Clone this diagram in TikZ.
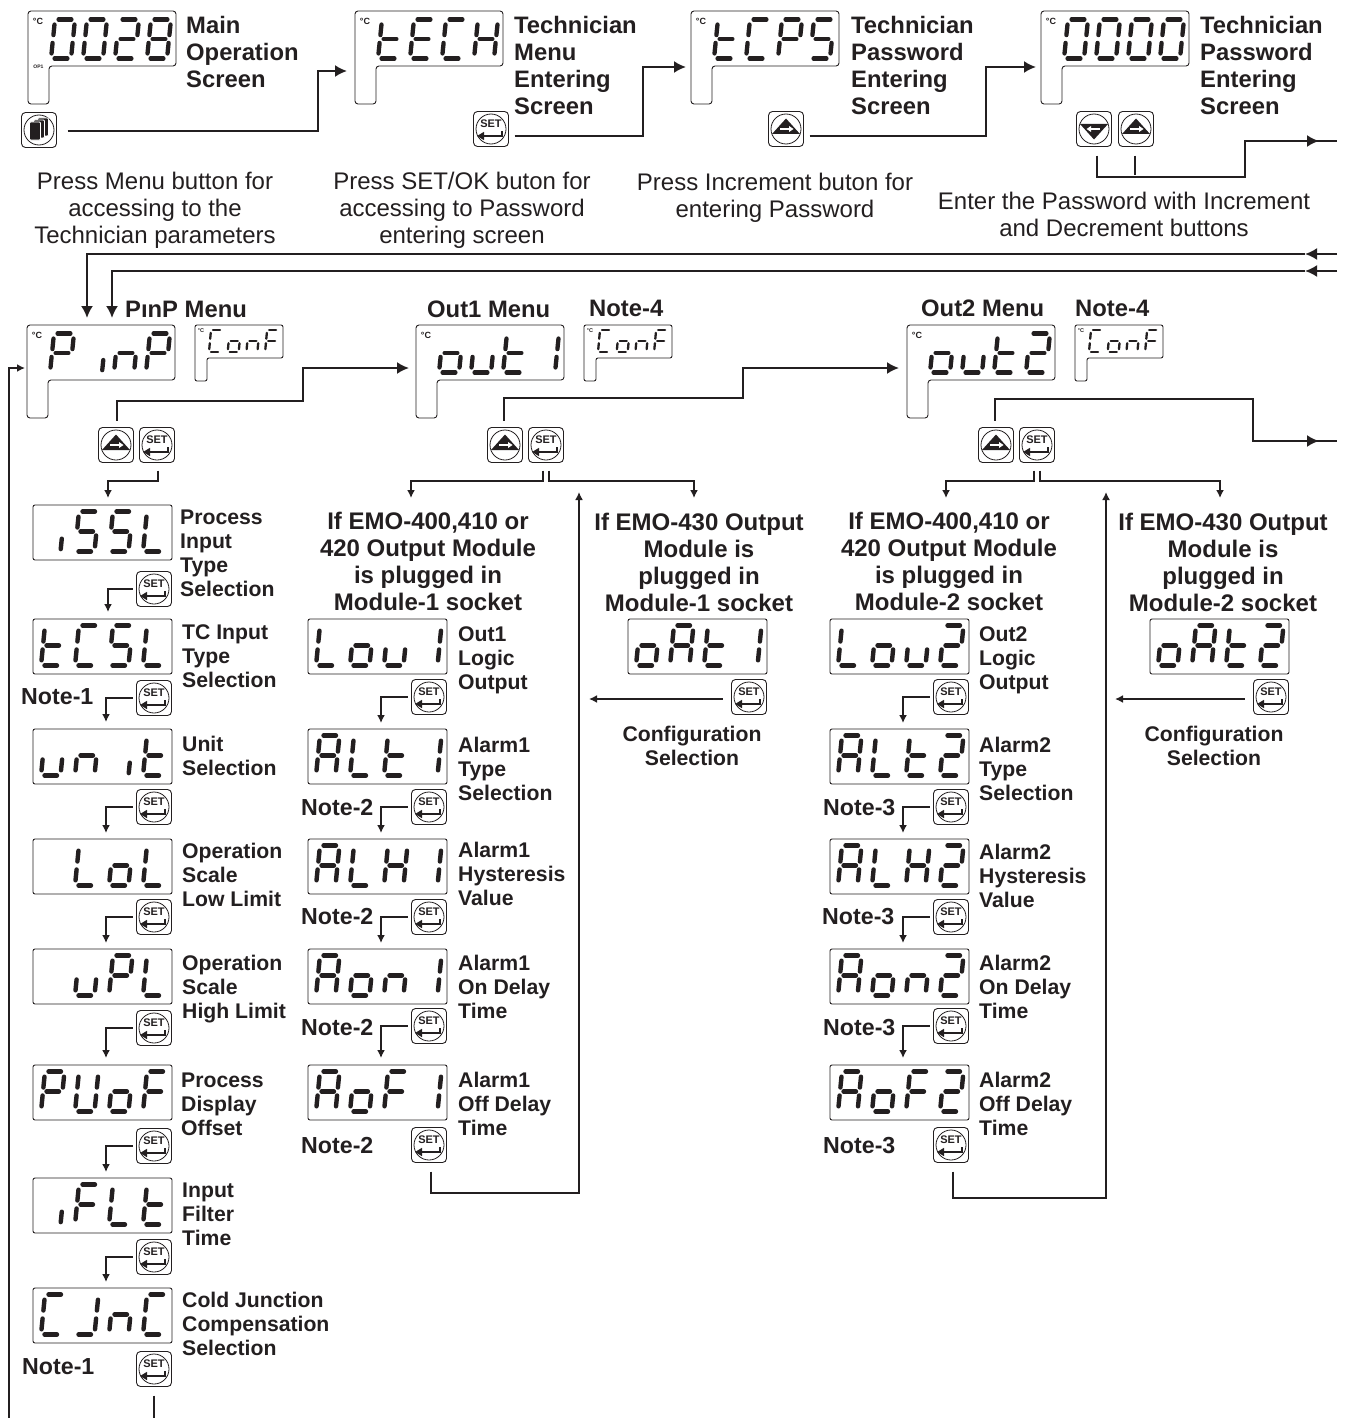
\documentclass[tikz,border=0pt]{standalone}
\usepackage{fontspec}
\setmainfont{Liberation Sans}
\usetikzlibrary{arrows.meta}
\definecolor{ink}{HTML}{231F20}
\tikzset{
 dline/.style={draw=ink,line width=0.9pt},
 dbx/.style={anchor=north west,inner sep=0pt,outer sep=0pt},
 segline/.style={draw=ink,line width=\slw pt,line cap=round},
 conn/.style={draw=ink,line width=2pt},
 tipb/.style={-{Latex[length=12pt,width=12pt]}},
 tips/.style={-{Latex[length=8pt,width=8pt]}},
 degc/.style={inner sep=0pt,font=\fontsize{9}{9}\selectfont\bfseries,text=ink},
 lbla/.style={anchor=north west,inner sep=0pt,align=left,text=ink,yshift=10.3pt,font=\fontsize{23.8}{27}\selectfont\bfseries},
 lblb/.style={anchor=north west,inner sep=0pt,align=left,text=ink,yshift=9.3pt,font=\fontsize{21.2}{24}\selectfont\bfseries},
 hdr/.style={anchor=north,inner sep=0pt,align=center,text=ink,yshift=10.3pt,font=\fontsize{24}{27}\selectfont\bfseries},
 capt/.style={anchor=north,inner sep=0pt,align=center,text=ink,yshift=10.3pt,font=\fontsize{24}{27}\selectfont},
 cfg/.style={anchor=north,inner sep=0pt,align=center,text=ink,yshift=9.3pt,font=\fontsize{21.2}{24}\selectfont\bfseries},
 notet/.style={anchor=west,inner sep=0pt,text=ink,font=\fontsize{23.2}{27}\selectfont\bfseries},
 btnbox/.style={draw=ink,line width=0.9pt,rounded corners=4pt,minimum size=35pt,inner sep=0pt,outer sep=0pt},
 settx/.style={inner sep=0pt,text=ink,font=\fontsize{11}{11}\selectfont\bfseries}
}
% seven segment machinery
\newcommand\sg[4]{\draw[segline] ({\sx+#1*\sw+#2*\ssl},{\sy-#2*\sh}) -- ({\sx+#3*\sw+#4*\ssl},{\sy-#4*\sh});}
\def\sega{\sg{.18}{1}{.82}{1}}
\def\segb{\sg{1}{.87}{1}{.6}}
\def\segc{\sg{1}{.4}{1}{.13}}
\def\segd{\sg{.18}{0}{.82}{0}}
\def\sege{\sg{0}{.4}{0}{.13}}
\def\segf{\sg{0}{.87}{0}{.6}}
\def\segg{\sg{.18}{.5}{.82}{.5}}
\def\segi{\sg{1}{.32}{1}{.06}}
\def\glx{}
\def\glO{a,b,c,d,e,f}
\def\glI{b,c}
\def\glT{a,b,g,e,d}
\def\glB{a,b,c,d,e,f,g}
\def\glt{f,e,d,g}
\def\glE{a,f,g,e,d}
\def\glC{a,f,e,d}
\def\glH{f,b,g,e,c}
\def\glP{a,b,f,g,e}
\def\glS{a,f,g,c,d}
\def\glL{f,e,d}
\def\glu{e,d,c}
\def\gln{e,g,c}
\def\gli{i}
\def\glo{c,d,e,g}
\def\glA{a,b,c,e,f,g}
\def\glF{a,f,g,e}
\def\glU{b,c,d,e,f}
\def\glJ{b,c,d}
\newcommand\setdig[5]{\def\sw{#1}\def\sh{#2}\def\ssl{#3}\def\spitch{#4}\def\slw{#5}}
\newcommand\digs[3]{%
 \foreach \dc [count=\n from 0] in {#3} {%
  \pgfmathsetmacro\sx{#1+\n*\spitch}%
  \def\sy{#2}%
  \expandafter\let\expandafter\cl\csname gl\dc\endcsname
  \foreach \s in \cl {\csname seg\s\endcsname}%
 }}
% display with tail
\newcommand\maindisp[4]{%
 \node[dbx,minimum width=148pt,minimum height=55pt] (#1) at (#2,#3) {};
 \draw[dline,rounded corners=3pt] (#1.north west) -- (#1.north east) -- (#1.south east) -- ([shift={(21,0)}]#1.south west) -- ([shift={(21,38)}]#1.south west) -- ([shift={(0,38)}]#1.south west) -- cycle;
 \node[degc] (#1c) at ([shift={(10,10)}]#1.north west) {°C};
 \setdig{20}{39}{4}{32}{4.3}
 \pgfmathsetmacro\dx{#2+23}\pgfmathsetmacro\dy{#3+47.5}
 \digs{\dx}{\dy}{#4}}
% small "ConF" display
\newcommand\confdisp[3]{%
 \node[dbx,minimum width=88pt,minimum height=33pt] (#1) at (#2,#3) {};
 \draw[dline,rounded corners=2pt] (#1.north west) -- (#1.north east) -- (#1.south east) -- ([shift={(12,0)}]#1.south west) -- ([shift={(12,23)}]#1.south west) -- ([shift={(0,23)}]#1.south west) -- cycle;
 \node[degc,font=\fontsize{5.5}{6}\selectfont\bfseries] (#1c) at ([shift={(6,6)}]#1.north west) {°C};
 \setdig{11}{22}{2}{18.7}{2.3}
 \pgfmathsetmacro\dx{#2+14}\pgfmathsetmacro\dy{#3+27}
 \digs{\dx}{\dy}{C,o,n,F}}
% plain display
\newcommand\rowdisp[4]{%
 \node[dbx,dline,rounded corners=2pt,minimum width=139pt,minimum height=55pt] (#1) at (#2,#3) {};
 \setdig{19.5}{40}{4}{34}{4.4}
 \pgfmathsetmacro\dx{#2+8}\pgfmathsetmacro\dy{#3+46.5}
 \digs{\dx}{\dy}{#4}}
% buttons
\newcommand\btnring[3]{\node[btnbox] (#1) at (#2,#3) {};\draw[ink,line width=0.8pt] (#1.center) circle [radius=15pt];}
\newcommand\btnset[3]{\btnring{#1}{#2}{#3}%
 \node[settx] (#1t) at (#2,#3-5.5) {SET};
 \begin{scope}[shift={(#2,#3)}]
 \draw[ink,line width=2.4pt] (11,2) -- (11,7) -- (-8,7);
 \fill[ink] (-14,7) -- (-7,2.8) -- (-7,11.2) -- cycle;
 \end{scope}}
\newcommand\btninc[3]{\btnring{#1}{#2}{#3}%
 \begin{scope}[shift={(#2,#3)}]
 \fill[ink] (0,-10.5) -- (14,5) -- (-14,5) -- cycle;
 \draw[white,line width=1.5pt] (-6,0) -- (3,0);
 \fill[white] (7.5,0) -- (3,-3) -- (3,3) -- cycle;
 \end{scope}}
\newcommand\btndec[3]{\btnring{#1}{#2}{#3}%
 \begin{scope}[shift={(#2,#3)}]
 \fill[ink] (0,10.5) -- (14,-5) -- (-14,-5) -- cycle;
 \draw[white,line width=1.5pt] (6,0) -- (-3,0);
 \fill[white] (-7.5,0) -- (-3,-3) -- (-3,3) -- cycle;
 \end{scope}}
\newcommand\btnmenu[3]{\btnring{#1}{#2}{#3}%
 \begin{scope}[shift={(#2,#3)}]
 \foreach \ox in {4,0,-4}
  \filldraw[fill=ink,draw=white,line width=0.8pt,rounded corners=1pt] (\ox-5.5,-10-\ox*.5) rectangle (\ox+5.5,8-\ox*.5);
 \end{scope}}
\newcommand\la[4]{\node[lbla] (#1) at (#2,#3) {\strut #4};}
\newcommand\lb[4]{\node[lblb] (#1) at (#2,#3) {\strut #4};}
\newcommand\hd[4]{\node[hdr] (#1) at (#2,#3) {\strut #4};}
\newcommand\ca[4]{\node[capt] (#1) at (#2,#3) {\strut #4};}
\newcommand\cf[3]{\node[cfg] (#1) at (#2,#3) {\strut Configuration\\Selection};}
\newcommand\nt[4]{\node[notet] (#1) at (#2,#3) {#4};}
\begin{document}
\begin{tikzpicture}[x=1pt,y=-1pt]
\useasboundingbox (0,0) rectangle (1346,1418);
% ---- top row
\maindisp{dA}{28}{11}{O,O,T,B}
\node[inner sep=0pt,font=\fontsize{5}{5}\selectfont\bfseries,text=ink] (opA) at (38.5,67) {OP1};
\maindisp{dB}{355}{11}{t,E,C,H}
\maindisp{dC}{691}{11}{t,C,P,S}
\maindisp{dD}{1041}{11}{O,O,O,O}
\la{tA}{186}{25}{Main\\Operation\\Screen}
\la{tB}{514}{25}{Technician\\Menu\\Entering\\Screen}
\la{tC}{851}{25}{Technician\\Password\\Entering\\Screen}
\la{tD}{1200}{25}{Technician\\Password\\Entering\\Screen}
\btnmenu{bA}{39}{130}
\btnset{bB}{491}{129}
\btninc{bC}{786}{129}
\btndec{bD}{1094}{129}
\btninc{bE}{1136}{129}
\draw[conn,tipb] ([shift={(11,1)}]bA.east) -- ++(250,0) |- ([shift={(-8,5)}]dB.south west);
\draw[conn,tipb] ([shift={(6,7)}]bB.east) -- ++(128,0) |- ([shift={(-5,1)}]dC.south west);
\draw[conn,tipb] ([shift={(6,7)}]bC.east) -- ++(176,0) |- ([shift={(-5,1)}]dD.south west);
\coordinate (rA) at (1337,141);
\coordinate (rAm) at (1319,141);
\coordinate (rAn) at (1314,141);
\draw[conn,tipb] ([shift={(3,9)}]bD.south) -- ++(0,21) -- ++(148,0) |- (rAm);
\draw[conn] (rAn) -- (rA);
\draw[conn] ([shift={(-1,9)}]bE.south) -- ++(0,19);
\ca{cA}{155}{181}{Press Menu button for\\accessing to the\\Technician parameters}
\ca{cB}{462}{181}{Press SET/OK buton for\\accessing to Password\\entering screen}
\ca{cC}{775}{182}{Press Increment buton for\\entering Password}
\ca{cD}{1124}{201}{Enter the Password with Increment\\and Decrement buttons}
% ---- menu row
\maindisp{dE}{27}{325}{P,i,n,P}
\maindisp{dF}{416}{325}{o,u,t,I}
\maindisp{dG}{907}{325}{o,u,t,T}
\confdisp{dEc}{195}{325}
\confdisp{dFc}{584}{325}
\confdisp{dGc}{1075}{325}
\coordinate (rB) at (1337,254);
\coordinate (rBm) at (1305,254);
\coordinate (rC) at (1337,271);
\coordinate (rCm) at (1305,271);
\draw[conn,tipb] (rB) -- (rBm);
\draw[conn,tipb] (rC) -- (rCm);
\draw[conn,tipb] (rBm) -- ++(-1218,0) -- ([shift={(60,-7)}]dE.north west);
\draw[conn,tipb] (rCm) -- ++(-1193,0) -- ([shift={(85,-7)}]dE.north west);
\la{hE}{125}{309}{PınP Menu}
\la{hF}{427}{309}{Out1 Menu}
\la{nF}{589}{308}{Note-4}
\la{hG}{921}{308}{Out2 Menu}
\la{nG}{1075}{308}{Note-4}
\btninc{bF}{116}{445}
\btnset{bG}{157}{445}
\btninc{bH}{505}{445}
\btnset{bI}{546}{445}
\btninc{bJ}{996}{445}
\btnset{bK}{1037}{445}
\coordinate (fb) at (9,1418);
\draw[conn,line width=1.8pt,tips] (fb) |- ([shift={(-2,15.5)}]dE.west);
\draw[conn,tipb] ([shift={(1,-7)}]bF.north) -- ++(0,-20) -- ++(186,0) |- ([shift={(-7,15.5)}]dF.west);
\draw[conn,tipb] ([shift={(-1,-7)}]bH.north) -- ++(0,-23) -- ++(239,0) |- ([shift={(-8,15.5)}]dG.west);
\coordinate (rD) at (1337,441);
\coordinate (rDm) at (1319,441);
\coordinate (rDn) at (1314,441);
\draw[conn,tipb] ([shift={(-1,-7)}]bJ.north) -- ++(0,-21.5) -- ++(258,0) |- (rDm);
\draw[conn] (rDn) -- (rD);
% ---- column 1
\rowdisp{pA}{33}{505}{i,S,S,L}
\rowdisp{pB}{33}{619}{t,C,S,L}
\rowdisp{pC}{33}{729}{u,n,i,t}
\rowdisp{pD}{33}{839}{x,L,o,L}
\rowdisp{pE}{33}{949}{x,u,P,L}
\rowdisp{pF}{33}{1065}{P,U,o,F}
\rowdisp{pG}{33}{1178}{i,F,L,t}
\rowdisp{pH}{33}{1288}{C,J,n,C}
\btnset{sA}{154}{589}
\btnset{sB}{154}{698}
\btnset{sC}{154}{807}
\btnset{sD}{154}{917}
\btnset{sE}{154}{1028}
\btnset{sF}{154}{1146}
\btnset{sG}{154}{1257}
\btnset{sH}{154}{1369}
\draw[conn,tips] ([shift={(1,8)}]bG.south) -- ++(0,10) -| ([shift={(75,-7)}]pA.north west);
\draw[conn,tips] ([shift={(-4,0)}]sA.west) -| ([shift={(75,-7)}]pB.north west);
\draw[conn,tips] ([shift={(-4,0)}]sB.west) -| ([shift={(73,-7)}]pC.north west);
\draw[conn,tips] ([shift={(-4,0)}]sC.west) -| ([shift={(73,-6)}]pD.north west);
\draw[conn,tips] ([shift={(-4,0)}]sD.west) -| ([shift={(73,-6)}]pE.north west);
\draw[conn,tips] ([shift={(-4,0)}]sE.west) -| ([shift={(73,-7)}]pF.north west);
\draw[conn,tips] ([shift={(-4,0)}]sF.west) -| ([shift={(73,-6)}]pG.north west);
\draw[conn,tips] ([shift={(-4,0)}]sG.west) -| ([shift={(73,-6)}]pH.north west);
\coordinate (eH) at (154,1418);
\draw[conn] ([shift={(0,9)}]sH.south) -- (eH);
\lb{lA}{180}{517}{Process\\Input\\Type\\Selection}
\lb{lB}{182}{632}{TC Input\\Type\\Selection}
\lb{lC}{182}{744}{Unit\\Selection}
\lb{lD}{182}{851}{Operation\\Scale\\Low Limit}
\lb{lE}{182}{963}{Operation\\Scale\\High Limit}
\lb{lF}{181}{1080}{Process\\Display\\Offset}
\lb{lG}{182}{1190}{Input\\Filter\\Time}
\lb{lH}{182}{1300}{Cold Junction\\Compensation\\Selection}
\nt{nA}{21}{697}{Note-1}
\nt{nB}{22}{1367}{Note-1}
% ---- column 2 (Out1)
\hd{eA}{428}{521}{If EMO-400,410 or\\420 Output Module\\is plugged in\\Module-1 socket}
\hd{eB}{699}{522}{If EMO-430 Output\\Module is\\plugged in\\Module-1 socket}
\rowdisp{qA}{308}{619}{L,o,u,I}
\rowdisp{qB}{308}{729}{A,L,t,I}
\rowdisp{qC}{308}{839}{A,L,H,I}
\rowdisp{qD}{308}{949}{A,o,n,I}
\rowdisp{qE}{308}{1065}{A,o,F,I}
\rowdisp{qF}{628}{619}{o,A,t,I}
\btnset{uA}{429}{697}
\btnset{uB}{429}{807}
\btnset{uC}{429}{917}
\btnset{uD}{429}{1026}
\btnset{uE}{429}{1145}
\btnset{uF}{749}{697}
\draw[conn,tips] ([shift={(-3,8)}]bI.south) -- ++(0,10) -| ([shift={(103,-121)}]qA.north west);
\draw[conn,tips] ([shift={(3,8)}]bI.south) -- ++(0,10) -| ([shift={(386,-121)}]qA.north west);
\draw[conn,tips] ([shift={(-4,0)}]uA.west) -| ([shift={(73,-6)}]qB.north west);
\draw[conn,tips] ([shift={(-4,0)}]uB.west) -| ([shift={(73,-6)}]qC.north west);
\draw[conn,tips] ([shift={(-4,0)}]uC.west) -| ([shift={(73,-6)}]qD.north west);
\draw[conn,tips] ([shift={(-4,0)}]uD.west) -| ([shift={(73,-7)}]qE.north west);
\coordinate (vA) at (579,492);
\draw[conn,tips] ([shift={(2,9)}]uE.south) -- ++(0,21) -| (vA);
\coordinate (vAa) at (589,699);
\draw[conn,tips] ([shift={(-9,2)}]uF.west) -- (vAa);
\cf{gA}{692}{734}
\lb{mA}{458}{634}{Out1\\Logic\\Output}
\lb{mB}{458}{745}{Alarm1\\Type\\Selection}
\lb{mC}{458}{850}{Alarm1\\Hysteresis\\Value}
\lb{mD}{458}{963}{Alarm1\\On Delay\\Time}
\lb{mE}{458}{1080}{Alarm1\\Off Delay\\Time}
\nt{oA}{301}{808}{Note-2}
\nt{oB}{301}{917}{Note-2}
\nt{oC}{301}{1028}{Note-2}
\nt{oD}{301}{1145}{Note-2}
% ---- column 3 (Out2)
\hd{fA}{949}{521}{If EMO-400,410 or\\420 Output Module\\is plugged in\\Module-2 socket}
\hd{fB}{1223}{522}{If EMO-430 Output\\Module is\\plugged in\\Module-2 socket}
\rowdisp{wA}{830}{619}{L,o,u,T}
\rowdisp{wB}{830}{729}{A,L,t,T}
\rowdisp{wC}{830}{839}{A,L,H,T}
\rowdisp{wD}{830}{949}{A,o,n,T}
\rowdisp{wE}{830}{1065}{A,o,F,T}
\rowdisp{wF}{1150}{619}{o,A,t,T}
\btnset{xA}{951}{697}
\btnset{xB}{951}{807}
\btnset{xC}{951}{917}
\btnset{xD}{951}{1026}
\btnset{xE}{951}{1145}
\btnset{xF}{1271}{697}
\draw[conn,tips] ([shift={(-3,8)}]bK.south) -- ++(0,10) -| ([shift={(116,-121)}]wA.north west);
\draw[conn,tips] ([shift={(3,8)}]bK.south) -- ++(0,10) -| ([shift={(390,-121)}]wA.north west);
\draw[conn,tips] ([shift={(-4,0)}]xA.west) -| ([shift={(73,-6)}]wB.north west);
\draw[conn,tips] ([shift={(-4,0)}]xB.west) -| ([shift={(73,-6)}]wC.north west);
\draw[conn,tips] ([shift={(-4,0)}]xC.west) -| ([shift={(73,-6)}]wD.north west);
\draw[conn,tips] ([shift={(-4,0)}]xD.west) -| ([shift={(73,-7)}]wE.north west);
\coordinate (vB) at (1106,492);
\draw[conn,tips] ([shift={(2,9)}]xE.south) -- ++(0,26) -| (vB);
\coordinate (vBa) at (1115,699);
\draw[conn,tips] ([shift={(-9,2)}]xF.west) -- (vBa);
\cf{gB}{1214}{734}
\lb{yA}{979}{634}{Out2\\Logic\\Output}
\lb{yB}{979}{745}{Alarm2\\Type\\Selection}
\lb{yC}{979}{852}{Alarm2\\Hysteresis\\Value}
\lb{yD}{979}{963}{Alarm2\\On Delay\\Time}
\lb{yE}{979}{1080}{Alarm2\\Off Delay\\Time}
\nt{zA}{823}{808}{Note-3}
\nt{zB}{822}{917}{Note-3}
\nt{zC}{823}{1028}{Note-3}
\nt{zD}{823}{1146}{Note-3}
\end{tikzpicture}
\end{document}
